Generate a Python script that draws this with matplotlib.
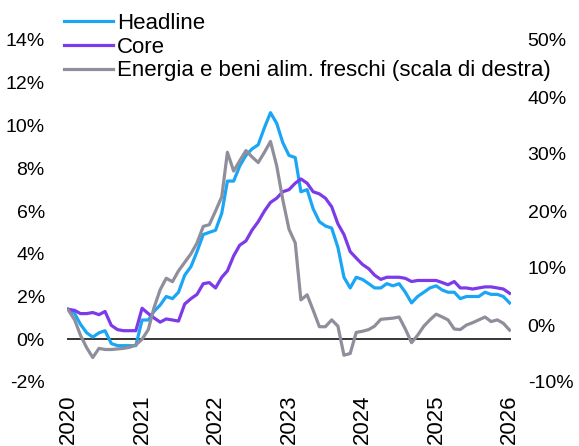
import matplotlib
matplotlib.use("Agg")
import matplotlib.pyplot as plt
import pandas as pd

plt.rcParams['font.family'] = ['Liberation Sans', 'DejaVu Sans']

# monthly data, Jan 2020 - Jan 2026
dates = pd.date_range('2020-01-01', periods=73, freq='MS')

headline = [1.4, 1.2, 0.7, 0.3, 0.1, 0.3, 0.4, -0.2, -0.3, -0.3, -0.3, -0.3,
            0.9, 0.9, 1.3, 1.6, 2.0, 1.9, 2.2, 3.0, 3.4, 4.1, 4.9, 5.0,
            5.1, 5.9, 7.4, 7.4, 8.1, 8.6, 8.9, 9.1, 9.9, 10.6, 10.1, 9.2,
            8.6, 8.5, 6.9, 7.0, 6.1, 5.5, 5.3, 5.2, 4.3, 2.9, 2.4, 2.9,
            2.8, 2.6, 2.4, 2.4, 2.6, 2.5, 2.6, 2.2, 1.7, 2.0, 2.2, 2.4,
            2.5, 2.3, 2.2, 2.2, 1.9, 2.0, 2.0, 2.0, 2.2, 2.1, 2.1, 2.0,
            1.7]

core = [1.4, 1.35, 1.2, 1.2, 1.25, 1.15, 1.3, 0.65, 0.45, 0.4, 0.4, 0.4,
        1.45, 1.2, 1.0, 0.8, 0.95, 0.9, 0.85, 1.65, 1.9, 2.1, 2.6, 2.65,
        2.4, 2.9, 3.2, 3.9, 4.4, 4.6, 5.1, 5.5, 6.0, 6.4, 6.6, 6.9,
        7.0, 7.3, 7.5, 7.3, 6.9, 6.8, 6.6, 6.2, 5.4, 4.9, 4.1, 3.8,
        3.5, 3.3, 3.0, 2.8, 2.9, 2.9, 2.9, 2.85, 2.7, 2.75, 2.75, 2.75,
        2.75, 2.65, 2.55, 2.7, 2.4, 2.4, 2.35, 2.4, 2.45, 2.45, 2.4, 2.35,
        2.15]

energy_food = [2.6, 0.9, -1.8, -4.0, -5.7, -4.1, -4.3, -4.3, -4.2, -4.1, -3.9, -3.5,
               -2.5, -0.8, 3.0, 6.2, 8.2, 7.6, 9.5, 11.0, 12.5, 14.4, 17.3, 17.6,
               20.0, 22.5, 30.3, 27.0, 28.8, 30.6, 29.5, 28.5, 30.3, 32.2, 27.9, 22.0,
               16.8, 14.4, 4.4, 5.3, 2.6, -0.3, -0.3, 0.9, -0.2, -5.3, -5.0, -1.3,
               -1.1, -0.8, -0.2, 1.0, 1.1, 1.2, 1.4, -0.7, -3.1, -1.8, -0.2, 0.9,
               1.9, 1.4, 0.9, -0.7, -0.8, 0.0, 0.4, 0.9, 1.4, 0.6, 0.9, 0.3,
               -0.9]

left_ticks = [-2, 0, 2, 4, 6, 8, 10, 12, 14]
right_ticks = [-10, 0, 10, 20, 30, 40, 50]
years = [2020, 2021, 2022, 2023, 2024, 2025, 2026]

c_head = '#1AA6F4'
c_core = '#7C3AEA'
c_en = '#8F8E9B'

fig = plt.figure(figsize=(5.79, 4.46), dpi=100)
ax = fig.add_axes([67 / 579, 1 - 382 / 446, 444 / 579, 342 / 446])
ax2 = ax.twinx()

l1, = ax.plot(dates, headline, color=c_head, lw=2.3, label='Headline')
l2, = ax.plot(dates, core, color=c_core, lw=2.3, label='Core')
l3, = ax2.plot(dates, energy_food, color=c_en, lw=2.3,
               label='Energia e beni alim. freschi (scala di destra)')
ax.axhline(0, color='black', lw=1.1, zorder=1)

ax.set_ylim(-2, 14)
ax2.set_ylim(-10, 50)
ax.set_yticks(left_ticks)
ax.set_yticklabels([f'{t}%' for t in left_ticks])
ax2.set_yticks(right_ticks)
ax2.set_yticklabels([f'{t}%' for t in right_ticks])

ax.set_xlim(pd.Timestamp('2019-12-25'), pd.Timestamp('2026-01-08'))
ax.set_xticks([pd.Timestamp(f'{y}-01-01') for y in years])
ax.set_xticklabels([str(y) for y in years], rotation=90)

for a in (ax, ax2):
    for s in a.spines.values():
        s.set_visible(False)
ax.tick_params(axis='y', length=0, pad=16, labelsize=14)
ax.tick_params(axis='x', length=0, pad=9, labelsize=16)
ax2.tick_params(axis='y', length=0, pad=12, labelsize=14)

fig.legend(handles=[l1, l2, l3], loc='upper left',
           bbox_to_anchor=(64 / 579, 1 - 13 / 446), frameon=False,
           fontsize=16, handlelength=2.2, handletextpad=0.2,
           labelspacing=0.12, borderpad=0, borderaxespad=0)

fig.savefig('out.png', dpi=100)
